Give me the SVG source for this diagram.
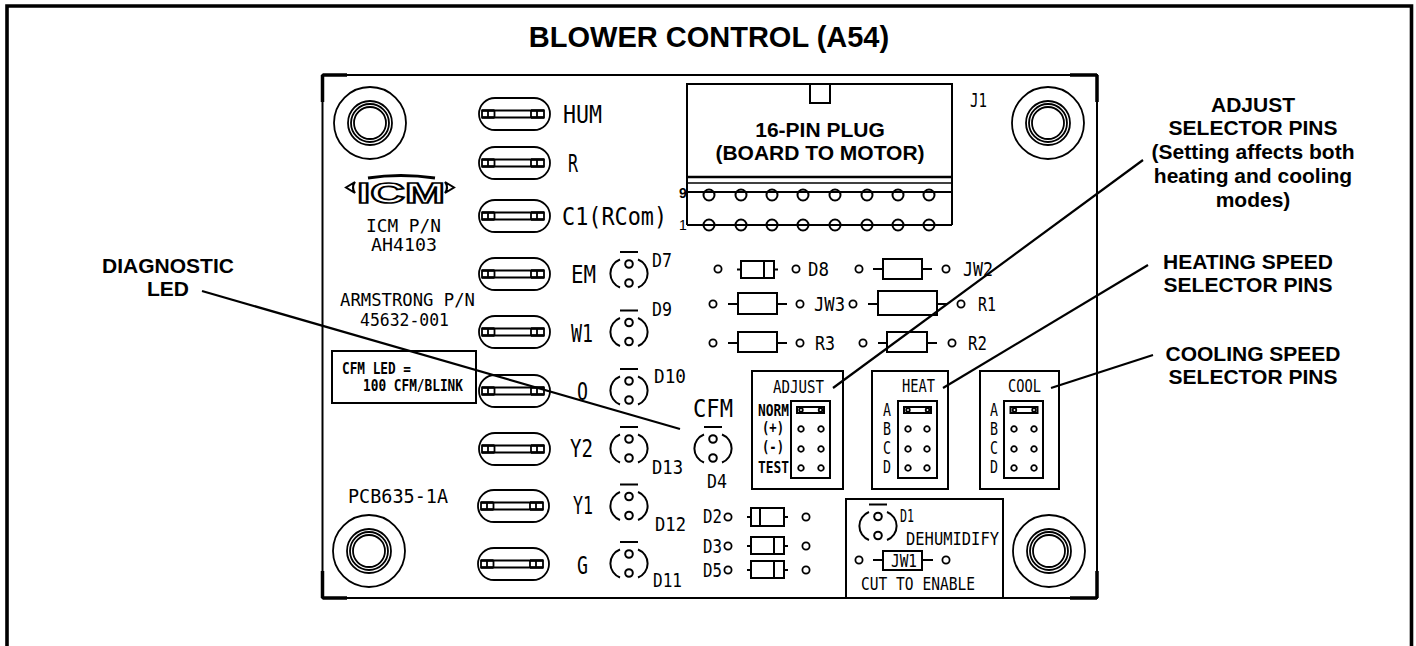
<svg xmlns="http://www.w3.org/2000/svg" xmlns:xlink="http://www.w3.org/1999/xlink" width="1416" height="646" viewBox="0 0 1416 646">
<style>
text{fill:#000}
.b{font-family:"Liberation Sans",Arial,sans-serif;font-weight:700;text-anchor:middle}
.t{font-size:29px}.n{font-size:21px}
.c{font-family:"DejaVu Sans Mono","Liberation Mono",monospace}
.l{font-size:24px}.m{font-size:19.5px}.p{font-size:17px}.s{font-size:17px}.x{font-size:15px;font-weight:700}
.g,.g *{fill:none;stroke:#000;stroke-width:2}
.f,.f *{fill:none;stroke:#000;stroke-width:1.8}
.lead{fill:none;stroke:#000;stroke-width:2.2}
</style>
<defs>
<g id="hole" class="f"><circle r="3.600"/></g>
<g id="mount" class="f"><circle r="36"/><circle r="22"/><circle r="19"/><circle r="16"/></g>
<g id="led" class="g"><path d="M-9-21.500H9M-9-14A15 15 0 0 0-9 14M9-14A15 15 0 0 1 9 14"/><circle cy="-9.500" r="3.800"/><circle cy="9.500" r="3.800"/></g>
<g id="term" class="f"><rect x="-35" y="-16" width="71" height="32" rx="16"/><path d="M-32-3.500H30V3.500H-32ZM-26-3.500V3.500M-19.500-3.500V3.500M17-3.500V3.500M23-3.500V3.500"/><path d="M-32-3.500H-19.500M-32 3.500H-19.500M17-3.500H30M17 3.500H30" style="stroke-width:2.600"/></g>
<g id="jump" class="f"><path d="M0-3H27V3H0Z" style="stroke-width:2"/><circle cx="4" r="1.800"/><circle cx="23.500" r="1.800"/></g>
<g id="pin" class="f"><circle r="5.500" style="stroke-width:2"/></g>
<circle id="sm" r="2.800" fill="none" stroke="#000" stroke-width="1.800"/>
</defs>
<rect width="1416" height="646" fill="#fff"/>
<path id="frame" d="M7 646V6H1411.500V646" fill="none" stroke="#000" stroke-width="3.600"/>
<text id="title" class="b t" x="709" y="47">BLOWER CONTROL (A54)</text>
<g id="board"><path class="g" d="M322.500 598V75H1097V598Z"/><path d="M322.500 75V102M322.500 75H347M322.500 598V571M322.500 598H347M1097 75V102M1097 75H1070M1097 598V571M1097 598H1070" fill="none" stroke="#000" stroke-width="3.500"/></g>
<g id="mounts"><use href="#mount" x="370" y="123"/><use href="#mount" x="369" y="551"/><use href="#mount" x="1048" y="123"/><use href="#mount" x="1049" y="551"/></g>
<g id="logo">
<text x="357" y="203" font-family="Liberation Sans,sans-serif" font-weight="700" font-size="30" textLength="88" lengthAdjust="spacingAndGlyphs" style="fill:#fff;stroke:#000;stroke-width:1.700">ICM</text>
<path d="M368 178Q400 173 435 178" fill="none" stroke="#000" stroke-width="2.800"/>
<path d="M355 182L346 187.500L355 193Q351 187.500 355 182ZM445 182L454 187.500L445 193Q449 187.500 445 182Z" fill="#fff" stroke="#000" stroke-width="2"/>
</g>
<g id="pn">
<text class="c p" x="366" y="232" textLength="75" lengthAdjust="spacingAndGlyphs">ICM P/N</text>
<text class="c p" x="371" y="251" textLength="66" lengthAdjust="spacingAndGlyphs">AH4103</text>
<text class="c p" x="340" y="306" textLength="135" lengthAdjust="spacingAndGlyphs">ARMSTRONG P/N</text>
<text class="c p" x="360" y="326" textLength="89" lengthAdjust="spacingAndGlyphs">45632-001</text>
<text class="c m" x="348" y="503" textLength="100" lengthAdjust="spacingAndGlyphs">PCB635-1A</text>
</g>
<g id="cfm-note"><rect class="g" x="332" y="351" width="144" height="52"/>
<text class="c x" x="342" y="374" textLength="69" lengthAdjust="spacingAndGlyphs">CFM LED =</text>
<text class="c x" x="363" y="391" textLength="100" lengthAdjust="spacingAndGlyphs">100 CFM/BLINK</text></g>
<g id="t-hum"><use href="#term" x="514" y="114"/><text class="c l" x="563" y="123" textLength="39" lengthAdjust="spacingAndGlyphs">HUM</text></g>
<g id="t-r"><use href="#term" x="514" y="163"/><text class="c l" x="568" y="172" textLength="10" lengthAdjust="spacingAndGlyphs">R</text></g>
<g id="t-c1"><use href="#term" x="514" y="216"/><text class="c l" x="562" y="225" textLength="105" lengthAdjust="spacingAndGlyphs">C1(RCom)</text></g>
<g id="t-em"><use href="#term" x="514" y="274"/><text class="c l" x="571" y="283" textLength="25" lengthAdjust="spacingAndGlyphs">EM</text></g>
<g id="t-w1"><use href="#term" x="514" y="332"/><text class="c l" x="571" y="342" textLength="22" lengthAdjust="spacingAndGlyphs">W1</text></g>
<g id="t-o"><use href="#term" x="514" y="391"/><text class="c l" x="577" y="400" textLength="11" lengthAdjust="spacingAndGlyphs">O</text></g>
<g id="t-y2"><use href="#term" x="514" y="449"/><text class="c l" x="570" y="457" textLength="23" lengthAdjust="spacingAndGlyphs">Y2</text></g>
<g id="t-y1"><use href="#term" x="513" y="506"/><text class="c l" x="573" y="514" textLength="20" lengthAdjust="spacingAndGlyphs">Y1</text></g>
<g id="t-g"><use href="#term" x="513" y="564"/><text class="c l" x="577" y="574" textLength="11" lengthAdjust="spacingAndGlyphs">G</text></g>
<g id="d7"><use href="#led" x="629" y="273.500"/><text class="c m" x="652" y="267" textLength="20" lengthAdjust="spacingAndGlyphs">D7</text></g>
<g id="d9"><use href="#led" x="629" y="332"/><text class="c m" x="652" y="316" textLength="20" lengthAdjust="spacingAndGlyphs">D9</text></g>
<g id="d10"><use href="#led" x="629" y="390.500"/><text class="c m" x="654" y="383" textLength="32" lengthAdjust="spacingAndGlyphs">D10</text></g>
<g id="d13"><use href="#led" x="629" y="448.500"/><text class="c m" x="652" y="474" textLength="31" lengthAdjust="spacingAndGlyphs">D13</text></g>
<g id="d12"><use href="#led" x="629" y="506"/><text class="c m" x="655" y="531" textLength="31" lengthAdjust="spacingAndGlyphs">D12</text></g>
<g id="d11"><use href="#led" x="629" y="563.500"/><text class="c m" x="653" y="587" textLength="29" lengthAdjust="spacingAndGlyphs">D11</text></g>
<g id="d4"><use href="#led" x="713" y="448.500"/><text class="c l" x="693" y="417" textLength="40" lengthAdjust="spacingAndGlyphs">CFM</text><text class="c m" x="707" y="488" textLength="20" lengthAdjust="spacingAndGlyphs">D4</text></g>
<g id="plug" class="g">
<path d="M687 225V84H952V225M810 84V103H830V84"/>
<path d="M687 177H952" style="stroke-width:2.500"/><path d="M687 183H952" style="stroke-width:1.500"/>
<path d="M687 192H952M687 225H952"/>
</g>
<g id="plug-pins">
<use href="#pin" x="709" y="195"/><use href="#pin" x="741" y="195"/><use href="#pin" x="772" y="195"/><use href="#pin" x="803" y="195"/><use href="#pin" x="835" y="195"/><use href="#pin" x="867" y="195"/><use href="#pin" x="898" y="195"/><use href="#pin" x="929" y="195"/>
<use href="#pin" x="709" y="225"/><use href="#pin" x="741" y="225"/><use href="#pin" x="772" y="225"/><use href="#pin" x="803" y="225"/><use href="#pin" x="835" y="225"/><use href="#pin" x="867" y="225"/><use href="#pin" x="898" y="225"/><use href="#pin" x="929" y="225"/>
</g>
<g id="plug-text">
<text class="b n" x="820" y="137">16-PIN PLUG</text><text class="b n" x="820" y="160">(BOARD TO MOTOR)</text>
<text x="679" y="198" font-family="Liberation Sans,sans-serif" font-weight="700" font-size="14">9</text>
<text x="679" y="230" font-family="Liberation Sans,sans-serif" font-size="14">1</text>
<text class="c m" x="970" y="107" textLength="17" lengthAdjust="spacingAndGlyphs">J1</text>
</g>
<g id="d8"><use href="#hole" x="718" y="269"/><use href="#hole" x="796" y="269"/><rect class="g" x="741" y="261" width="33" height="17"/><path class="g" d="M764 261V278M737 269.500H741M774 269.500H778"/><text class="c m" x="808" y="276" textLength="21" lengthAdjust="spacingAndGlyphs">D8</text></g>
<g id="jw2"><use href="#hole" x="859" y="269"/><use href="#hole" x="946" y="269"/><rect class="g" x="883" y="259" width="39" height="20"/><path class="g" d="M873 269H883M922 269H932"/><text class="c m" x="963" y="276" textLength="30" lengthAdjust="spacingAndGlyphs">JW2</text></g>
<g id="jw3"><use href="#hole" x="713" y="304"/><use href="#hole" x="800" y="304"/><rect class="g" x="738" y="293" width="39" height="21"/><path class="g" d="M728 304H738M777 304H787"/><text class="c m" x="814" y="311" textLength="31" lengthAdjust="spacingAndGlyphs">JW3</text></g>
<g id="r1"><use href="#hole" x="853" y="304"/><use href="#hole" x="961" y="304"/><rect class="g" x="878" y="291" width="59" height="24"/><path class="g" d="M868 304H878M937 304H948"/><text class="c m" x="978" y="311" textLength="18" lengthAdjust="spacingAndGlyphs">R1</text></g>
<g id="r3"><use href="#hole" x="713" y="343"/><use href="#hole" x="800" y="343"/><rect class="g" x="738" y="332" width="39" height="20"/><path class="g" d="M728 343H738M777 343H787"/><text class="c m" x="815" y="350" textLength="20" lengthAdjust="spacingAndGlyphs">R3</text></g>
<g id="r2"><use href="#hole" x="863" y="343"/><use href="#hole" x="952" y="343"/><rect class="g" x="887" y="332" width="40" height="20"/><path class="g" d="M878 343H887M927 343H937"/><text class="c m" x="968" y="350" textLength="19" lengthAdjust="spacingAndGlyphs">R2</text></g>
<g id="d2"><text class="c m" x="703" y="523" textLength="19" lengthAdjust="spacingAndGlyphs">D2</text><use href="#hole" x="728" y="517"/><use href="#hole" x="806" y="517"/><rect class="g" x="751" y="508" width="33" height="18"/><path class="g" d="M760 508V526M747 517H751M784 517H788"/></g>
<g id="d3"><text class="c m" x="703" y="553" textLength="19" lengthAdjust="spacingAndGlyphs">D3</text><use href="#hole" x="728" y="546"/><use href="#hole" x="806" y="546"/><rect class="g" x="751" y="537" width="33" height="17"/><path class="g" d="M774 537V554M747 546H751M784 546H788"/></g>
<g id="d5"><text class="c m" x="703" y="577" textLength="19" lengthAdjust="spacingAndGlyphs">D5</text><use href="#hole" x="728" y="570"/><use href="#hole" x="806" y="570"/><rect class="g" x="751" y="561" width="33" height="17"/><path class="g" d="M774 561V578M747 570H751M784 570H788"/></g>
<g id="adjust"><rect class="g" x="752" y="371" width="91" height="118"/><rect class="g" x="791" y="401" width="39" height="77"/>
<text class="c s" x="773" y="393" textLength="51" lengthAdjust="spacingAndGlyphs">ADJUST</text>
<text class="c x" x="758" y="416" textLength="31" lengthAdjust="spacingAndGlyphs">NORM</text><text class="c x" x="762" y="433" textLength="22" lengthAdjust="spacingAndGlyphs">(+)</text><text class="c x" x="762" y="452" textLength="22" lengthAdjust="spacingAndGlyphs">(-)</text><text class="c x" x="758" y="473" textLength="31" lengthAdjust="spacingAndGlyphs">TEST</text>
<use href="#jump" x="797" y="410"/><use href="#sm" x="801" y="429"/><use href="#sm" x="821" y="429"/><use href="#sm" x="801" y="449"/><use href="#sm" x="821" y="449"/><use href="#sm" x="801" y="468"/><use href="#sm" x="821" y="468"/></g>
<g id="heat"><rect class="g" x="872" y="371" width="76" height="118"/><rect class="g" x="898" y="401" width="39" height="77"/>
<text class="c s" x="902" y="392" textLength="33" lengthAdjust="spacingAndGlyphs">HEAT</text>
<text class="c s" x="883" y="416" textLength="8" lengthAdjust="spacingAndGlyphs">A</text><text class="c s" x="883" y="435" textLength="8" lengthAdjust="spacingAndGlyphs">B</text><text class="c s" x="883" y="454" textLength="8" lengthAdjust="spacingAndGlyphs">C</text><text class="c s" x="883" y="473" textLength="8" lengthAdjust="spacingAndGlyphs">D</text>
<use href="#jump" x="904" y="410"/><use href="#sm" x="908" y="429"/><use href="#sm" x="927" y="429"/><use href="#sm" x="908" y="449"/><use href="#sm" x="927" y="449"/><use href="#sm" x="908" y="468"/><use href="#sm" x="927" y="468"/></g>
<g id="cool"><rect class="g" x="980" y="371" width="79" height="118"/><rect class="g" x="1004" y="401" width="39" height="77"/>
<text class="c s" x="1008" y="392" textLength="33" lengthAdjust="spacingAndGlyphs">COOL</text>
<text class="c s" x="990" y="416" textLength="8" lengthAdjust="spacingAndGlyphs">A</text><text class="c s" x="990" y="435" textLength="8" lengthAdjust="spacingAndGlyphs">B</text><text class="c s" x="990" y="454" textLength="8" lengthAdjust="spacingAndGlyphs">C</text><text class="c s" x="990" y="473" textLength="8" lengthAdjust="spacingAndGlyphs">D</text>
<use href="#jump" x="1010.500" y="410"/><use href="#sm" x="1014" y="429"/><use href="#sm" x="1034" y="429"/><use href="#sm" x="1014" y="449"/><use href="#sm" x="1034" y="449"/><use href="#sm" x="1014" y="468"/><use href="#sm" x="1034" y="468"/></g>
<g id="dehumidify"><rect class="g" x="846" y="499" width="157" height="99"/><use href="#led" x="878" y="526"/>
<text class="c s" x="900" y="522" textLength="14" lengthAdjust="spacingAndGlyphs">D1</text>
<text class="c s" x="906" y="545" textLength="93" lengthAdjust="spacingAndGlyphs">DEHUMIDIFY</text>
<use href="#hole" x="859" y="560"/><use href="#hole" x="946" y="560"/><rect class="g" x="883" y="551" width="39" height="19"/><path class="g" d="M873 560H883M922 560H933"/>
<text class="c s" x="891" y="567" textLength="26" lengthAdjust="spacingAndGlyphs">JW1</text>
<text class="c s" x="861" y="590" textLength="114" lengthAdjust="spacingAndGlyphs">CUT TO ENABLE</text></g>
<g id="connectors">
<path class="lead" d="M202 291L680 429"/>
<path class="lead" d="M1143 160L833 388"/>
<path class="lead" d="M1148 265L943 388"/>
<path class="lead" d="M1153 355L1051 388"/>
</g>
<g id="callouts">
<text class="b n" x="168" y="273">DIAGNOSTIC</text><text class="b n" x="168" y="296">LED</text>
<text class="b n" x="1253" y="112">ADJUST</text><text class="b n" x="1253" y="135">SELECTOR PINS</text><text class="b n" x="1253" y="159">(Setting affects both</text><text class="b n" x="1253" y="183">heating and cooling</text><text class="b n" x="1253" y="207">modes)</text>
<text class="b n" x="1248" y="269">HEATING SPEED</text><text class="b n" x="1248" y="292">SELECTOR PINS</text>
<text class="b n" x="1253" y="361">COOLING SPEED</text><text class="b n" x="1253" y="384">SELECTOR PINS</text>
</g>
</svg>
